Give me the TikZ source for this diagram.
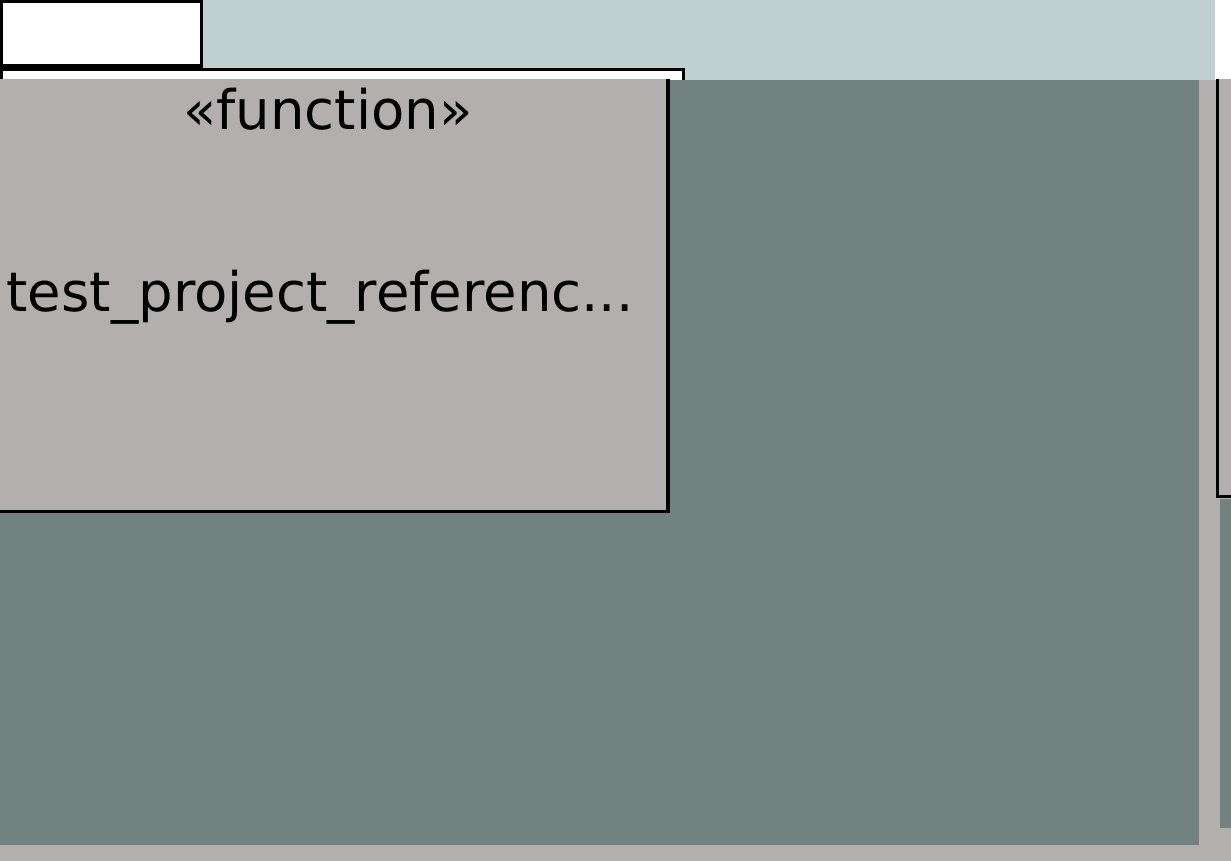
\documentclass[tikz,border=0pt]{standalone}
\usepackage{fontspec}
\setmainfont{DejaVu Sans}
\definecolor{bggrey}{RGB}{179,175,175}
\definecolor{lightteal}{RGB}{190,209,208}
\definecolor{darkteal}{RGB}{114,130,129}
\tikzset{
  panel/.style={draw=black, line width=3.5pt},
  bigtext/.style={font=\fontsize{54.5}{60}\selectfont, text=black, inner sep=0pt, anchor=base},
}
\begin{document}
\begin{tikzpicture}[x=1pt,y=-1pt]
\useasboundingbox (0,0) rectangle (1231,861);
% background
\fill[bggrey] (0,0) rectangle (1231,861);
% top band
\fill[lightteal] (0,0) rectangle (1215,80);
\fill[white] (1215,0) rectangle (1231,80);
% top-left white box
\filldraw[panel, fill=white] (1.5,1.5) rectangle (201.5,66);
% white strip behind function box
\begin{scope}
\clip (0,0) rectangle (1231,80);
\filldraw[panel, fill=white] (1.5,69.5) rectangle (683.5,200);
\end{scope}
% main dark area
\fill[darkteal] (0,80) rectangle (1199,845);
% right box
\begin{scope}
\clip (0,80) rectangle (1231,861);
\filldraw[panel, fill=bggrey] (1217.5,60) rectangle (1260,496.5);
\end{scope}
\fill[darkteal] (1219.5,498.5) rectangle (1231,828);
% function box
\begin{scope}
\clip (0,80) rectangle (1231,861);
\filldraw[panel, fill=bggrey] (-5,60) rectangle (668,511.5);
\end{scope}
\node[bigtext] (stereo) at (328,130) {«function»};
\node[bigtext] (fname) at (320,311) {test\_project\_referenc...};
\end{tikzpicture}
\end{document}
